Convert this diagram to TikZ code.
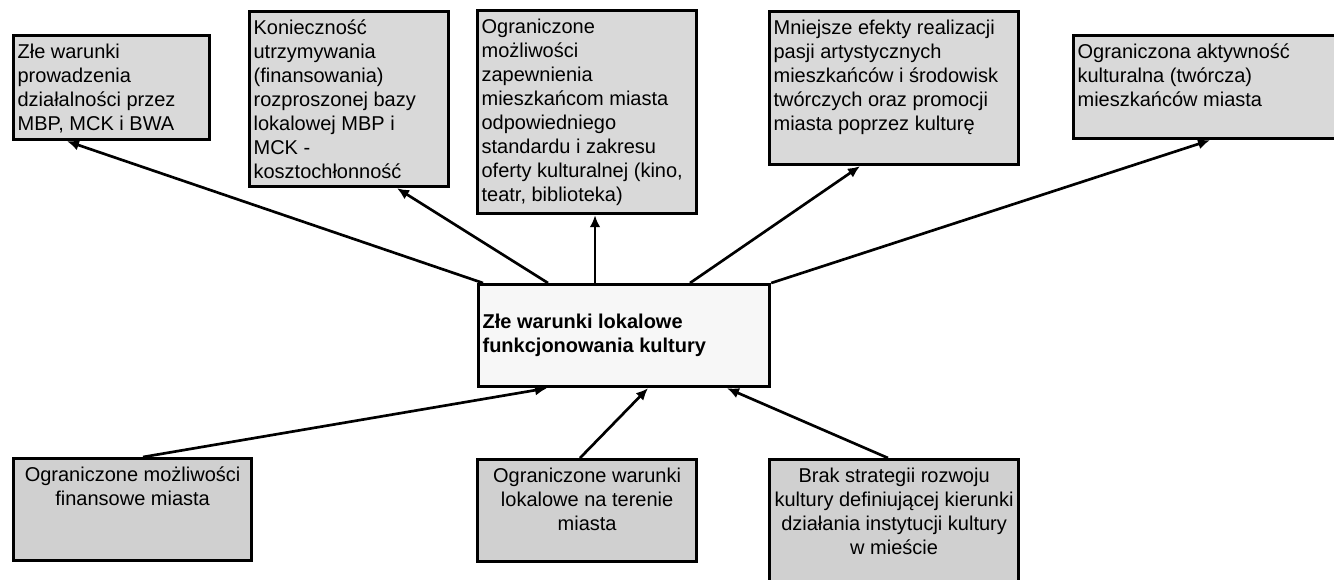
\documentclass[tikz,border=0pt]{standalone}
\usepackage{fontspec}
\setmainfont{Liberation Sans}
\usepackage{xcolor}
\usepackage{tikz}
\usetikzlibrary{arrows.meta,calc}
\newlength{\pxu}
\setlength{\pxu}{0.75pt}
% text cells: width, height (in px of the page), text
\newcommand{\lcell}[3]{\parbox[c][\dimexpr#2\pxu-12\pxu\relax][t]{\dimexpr#1\pxu-8\pxu\relax}{\raggedright\strut#3}}
\newcommand{\ccell}[3]{\parbox[c][\dimexpr#2\pxu-12\pxu\relax][t]{\dimexpr#1\pxu-8\pxu\relax}{\centering\strut#3}}
\newcommand{\mcell}[3]{\parbox[c][\dimexpr#2\pxu-12\pxu\relax][c]{\dimexpr#1\pxu-8\pxu\relax}{\raggedright#3}}
\definecolor{effgray}{HTML}{D9D9D9}
\definecolor{causegray}{HTML}{D0D0D0}
\definecolor{coregray}{HTML}{F7F7F7}

\begin{document}
\begin{tikzpicture}[
  x=0.75pt, y=-0.75pt,
  cell/.style={draw, line width=2.4pt, anchor=north west, inner xsep=3pt, inner ysep=4.5pt, font=\fontsize{15pt}{18pt}\selectfont},
  effect/.style={cell, fill=effgray},
  cause/.style={cell, fill=causegray},
  core/.style={cell, fill=coregray, font=\fontsize{15pt}{18pt}\selectfont\bfseries},
  arr/.style={-{Latex[length=9pt,width=8pt]}, line width=2pt}
]
  \useasboundingbox (0,0) rectangle (1334,579);
  % skutki
  \node[effect] (zle)    at (12,34)   {\lcell{196}{104}{Złe warunki\\prowadzenia\\działalności przez\\MBP, MCK i BWA}};
  \node[effect] (koszt)  at (248,10)  {\lcell{199}{175}{Konieczność\\utrzymywania\\(finansowania)\\rozproszonej bazy\\lokalowej MBP i\\MCK -\\kosztochłonność}};
  \node[effect] (oferta) at (476,9)   {\lcell{219}{203}{Ograniczone\\możliwości\\zapewnienia\\mieszkańcom miasta\\odpowiedniego\\standardu i zakresu\\oferty kulturalnej (kino,\\teatr, biblioteka)}};
  \node[effect] (pasje)  at (768,10)  {\lcell{249}{153}{Mniejsze efekty realizacji\\pasji artystycznych\\mieszkańców i środowisk\\twórczych oraz promocji\\miasta poprzez kulturę}};
  \node[effect] (aktyw)  at (1072,34) {\lcell{275}{103}{Ograniczona aktywność\\kulturalna (twórcza)\\mieszkańców miasta}};
  % problem
  \node[core] (glowny) at (477,283) {\mcell{291}{102}{Złe warunki lokalowe\\funkcjonowania kultury}};
  % przyczyny
  \node[cause] (finanse)   at (12,457)  {\ccell{238}{102}{Ograniczone możliwości\\finansowe miasta}};
  \node[cause] (lokale)    at (476,458) {\ccell{219}{102}{Ograniczone warunki\\lokalowe na terenie\\miasta}};
  \node[cause] (strategia) at (768,458) {\ccell{249}{140}{Brak strategii rozwoju\\kultury definiującej kierunki\\działania instytucji kultury\\w mieście}};

  \draw[arr] ($(glowny.north west)+(6,0)$)   -- ($(zle.south west)+(55,0)$);
  \draw[arr] ($(glowny.north west)+(71,0)$)  -- ($(koszt.south west)+(149,0)$);
  \draw[arr] ($(glowny.north west)+(118,0)$) -- ($(oferta.south west)+(119,0)$);
  \draw[arr] ($(glowny.north west)+(213,0)$) -- ($(pasje.south west)+(92,0)$);
  \draw[arr] (glowny.north east)             -- ($(aktyw.south west)+(138,0)$);

  \draw[arr] ($(finanse.north west)+(131,0)$)   -- ($(glowny.south west)+(70,0)$);
  \draw[arr] ($(lokale.north west)+(104,0)$)    -- ($(glowny.south west)+(171,0)$);
  \draw[arr] ($(strategia.north west)+(120,0)$) -- ($(glowny.south west)+(250,0)$);
\end{tikzpicture}
\end{document}
